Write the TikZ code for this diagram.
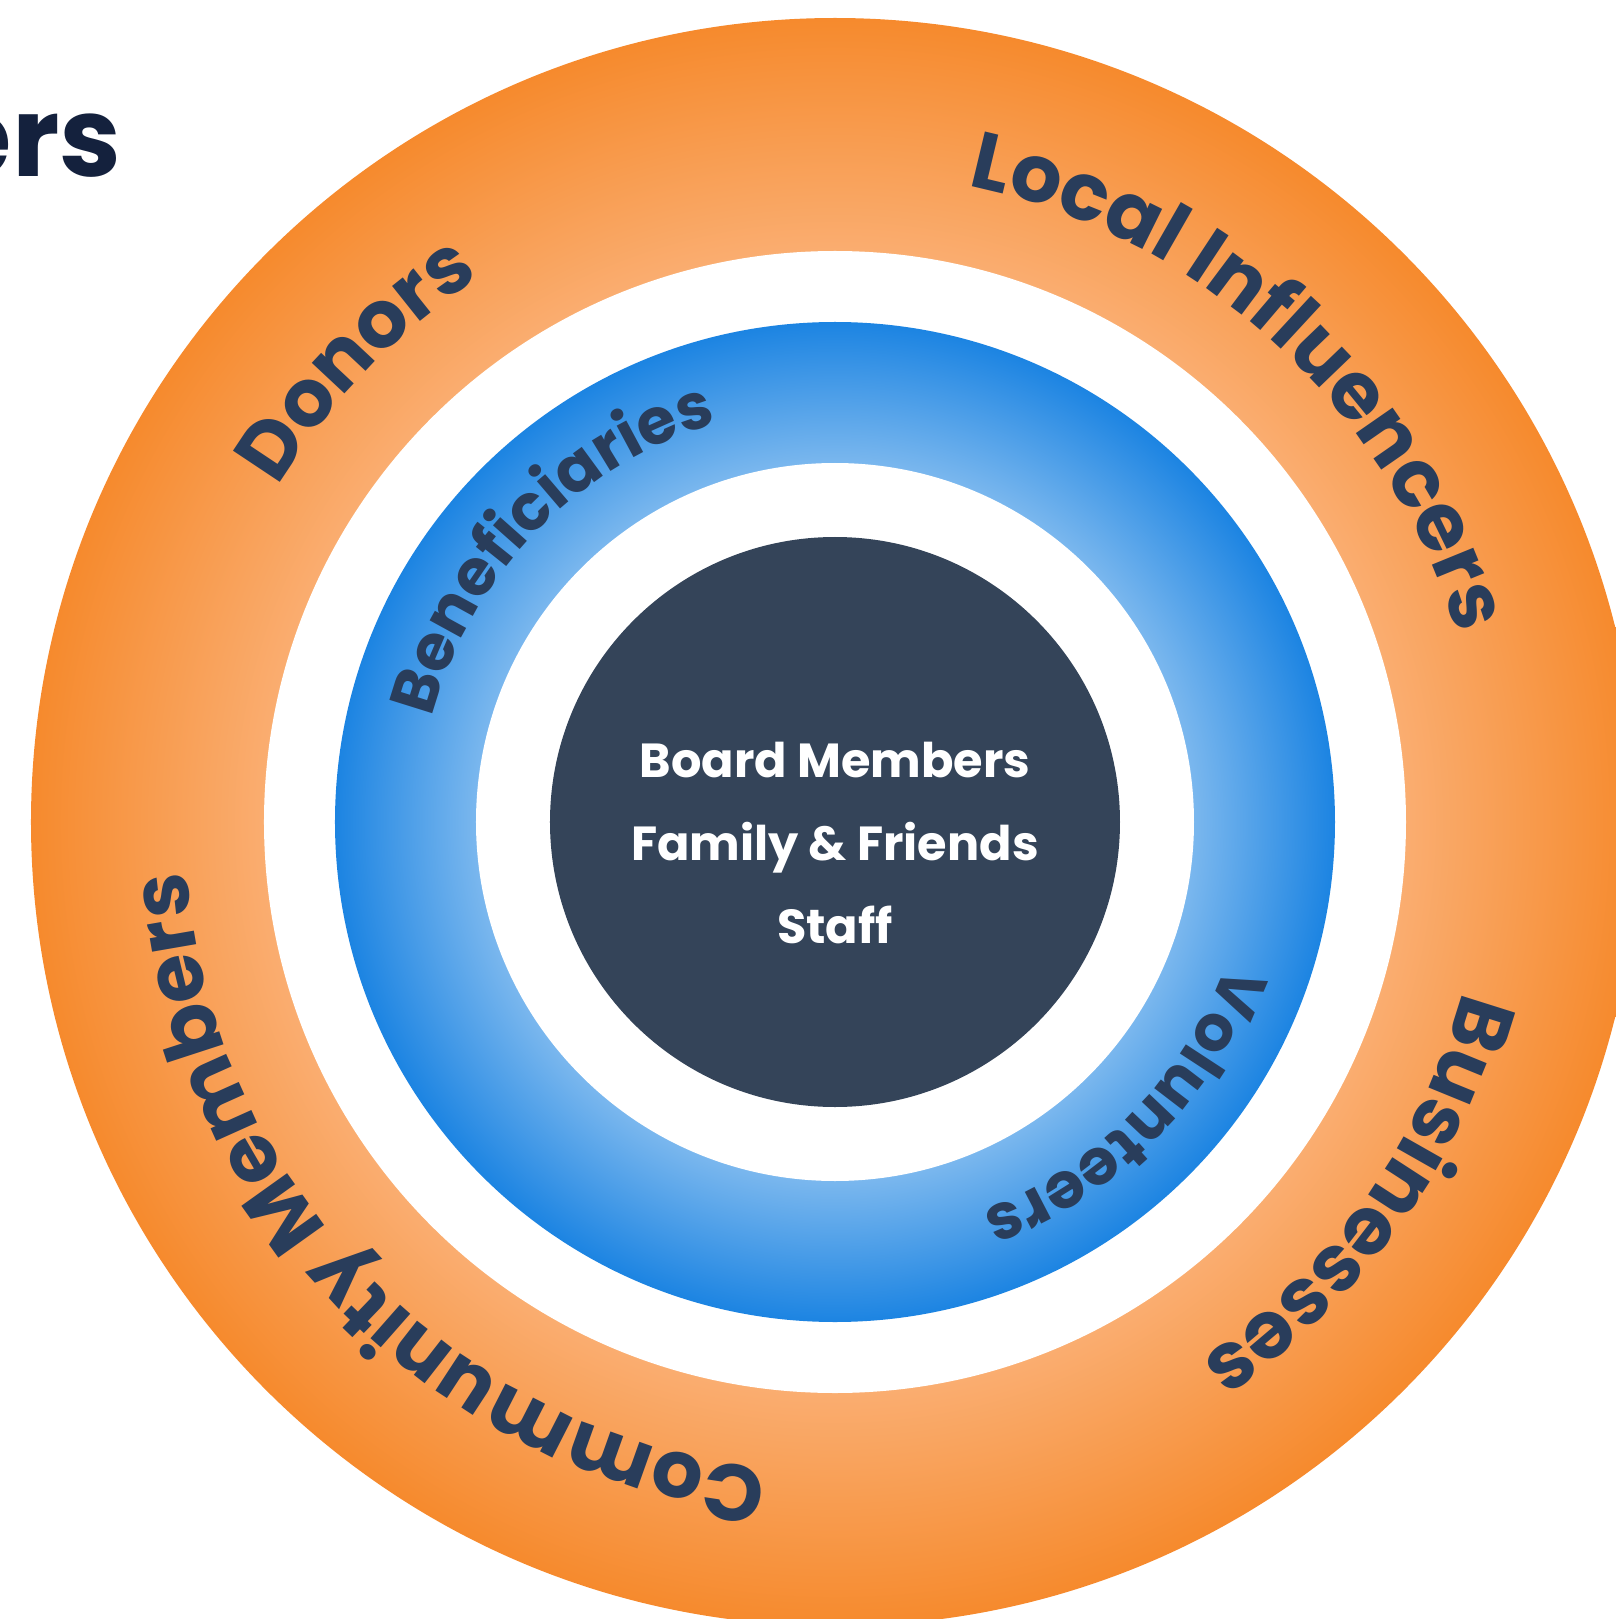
\documentclass[tikz,border=0pt]{standalone}
\usepackage{fontspec}
\setmainfont{Poppins}
\usetikzlibrary{decorations.text}

\definecolor{orangedeep}{HTML}{F68A2D}
\definecolor{orangelight}{HTML}{FAAD70}
\definecolor{bluedeep}{HTML}{1C84E2}
\definecolor{bluelight}{HTML}{7AB7EE}
\definecolor{corefill}{HTML}{344459}
\definecolor{ink}{HTML}{293D5B}
\definecolor{navy}{HTML}{14213D}

\pgfdeclareradialshading{orangering}{\pgfpointorigin}{%
    color(0bp)=(orangelight); color(17.75bp)=(orangelight);
    color(25bp)=(orangedeep); color(50bp)=(orangedeep)}
\pgfdeclareradialshading{bluering}{\pgfpointorigin}{%
    color(0bp)=(bluelight); color(17.95bp)=(bluelight);
    color(25bp)=(bluedeep); color(50bp)=(bluedeep)}

\newcommand\outerfont{\fontsize{22.8}{27}\selectfont\bfseries}
\newcommand\innerfont{\fontsize{18.2}{22}\selectfont\bfseries}

\begin{document}
\begin{tikzpicture}[
    outer label/.style={decorate,decoration={text along path,text align=center,
        text color=ink,text={|\outerfont|#1}}},
    inner label/.style={decorate,decoration={text along path,text align=center,
        text color=ink,text={|\innerfont|#1}}},
    core text/.style={text=white,font=\fontsize{13.6}{16}\selectfont\bfseries,
        inner sep=0pt,anchor=base}
]
    \useasboundingbox (-8.35,-7.97) rectangle (7.80,8.22);

    \shade[shading=orangering] (0,0) circle[radius=8.04];
    \fill[white] (0,0) circle[radius=5.71];
    \shade[shading=bluering] (0,0) circle[radius=5.00];
    \fill[white] (0,0) circle[radius=3.59];
    \fill[corefill] (0,0) circle[radius=2.85];

    \path[outer label=Donors] (176:6.5) arc[start angle=176,end angle=96,radius=6.5];
    \path[outer label=Local Influencers] (92.5:6.5) arc[start angle=92.5,end angle=2.5,radius=6.5];
    \path[outer label=Businesses] (9.5:6.5) arc[start angle=9.5,end angle=-80.5,radius=6.5];
    \path[outer label=Community Members] (279.2:6.5) arc[start angle=279.2,end angle=169.2,radius=6.5];

    \path[inner label=Beneficiaries] (181:4.16) arc[start angle=181,end angle=91,radius=4.16];
    \path[inner label=Volunteers] (0.4:4.16) arc[start angle=0.4,end angle=-89.6,radius=4.16];

    \node[core text] (board) at (0,0.45) {Board Members};
    \node[core text] (family) at (0,-0.38) {Family \& Friends};
    \node[core text] (staff) at (0,-1.21) {Staff};

    \node[text=navy,font=\fontsize{31.5}{37}\selectfont\bfseries,inner sep=0pt,
        anchor=base east] (heading) at (-7.13,6.45) {ers};
\end{tikzpicture}
\end{document}
